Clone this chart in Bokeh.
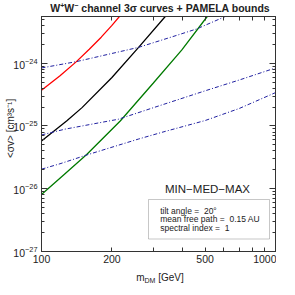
from bokeh.plotting import figure
from bokeh.layouts import column, row
from bokeh.models import (LogAxis, FixedTicker, Label, BoxAnnotation, Div,
                          LogTickFormatter, PrintfTickFormatter, CustomJSTickFormatter)
from bokeh.embed import file_html
from bokeh.resources import INLINE

# ---------------- data ----------------
red_m = [100, 120, 141, 160, 180, 200, 220]
red_s = [3.7e-25, 6.3e-25, 1.06e-24, 1.67e-24, 2.6e-24, 4.0e-24, 6.1e-24]

black_m = [100, 128, 149, 200, 260, 338, 350]
black_s = [5.75e-26, 1.2e-25, 1.96e-25, 5.93e-25, 1.79e-24, 5.55e-24, 6.4e-24]

green_m = [100, 125, 156, 217, 300, 398, 508, 520]
green_s = [8.07e-27, 1.69e-26, 3.52e-26, 1.2e-25, 4.8e-25, 1.63e-24, 5.4e-24, 6.05e-24]

blue1_m = [100, 141, 200, 260, 360, 461, 610, 640]
blue1_s = [8.4e-25, 1.06e-24, 1.43e-24, 1.79e-24, 2.62e-24, 3.52e-24, 5.55e-24, 6.0e-24]

blue2_m = [100, 126, 160, 213, 300, 500, 700, 1000]
blue2_s = [7.2e-26, 8.9e-26, 1.05e-25, 1.28e-25, 1.95e-25, 3.63e-25, 5.4e-25, 8.4e-25]

blue3_m = [100, 120, 156, 260, 338, 500, 700, 1000]
blue3_s = [2.05e-26, 2.5e-26, 3.45e-26, 6.2e-26, 8.2e-26, 1.22e-25, 1.9e-25, 3.4e-25]

x_major = [100, 200, 500, 1000]
x_minor = [300, 400, 600, 700, 800, 900]
y_major = [1e-27, 1e-26, 1e-25, 1e-24]
y_minor = [k * d for d in [1e-27, 1e-26, 1e-25, 1e-24] for k in range(2, 10)]

title_html = ('<span style="position:relative;top:1.3px">'
              'W<sup style="font-size:7px;vertical-align:4px;line-height:0">+</sup>'
              'W<sup style="font-size:7px;vertical-align:4px;line-height:0">\u2212</sup>'
              ' channel 3\u03c3 curves + PAMELA bounds</span>')
ylabel_text = "&lt;\u03c3v&gt; [cm\u00b3s\u207b\u00b9]"
xlabel_html = ('m<sub style="font-size:7px;vertical-align:-2px;line-height:0">DM</sub>'
               ' [GeV]')
info_lines = ["tilt angle =\u00a0\u00a020\u00b0", "mean free path =\u00a0\u00a00.15 AU",
              "spectral index =\u00a0\u00a01"]
model_text = "MIN\u2212MED\u2212MAX"

FONT = "Liberation Sans"
AXC = "#333333"
TXC = "#222222"

FW, FH = 234, 235
YLW = 10

p = figure(frame_width=FW, frame_height=FH, x_axis_type="log", y_axis_type="log",
           x_range=(100, 1000), y_range=(1e-27, 5.55e-24),
           output_backend="svg", toolbar_location=None, title=None,
           min_border_left=0, min_border_right=1, min_border_top=1, min_border_bottom=0)
p.grid.visible = False
p.outline_line_color = AXC
p.background_fill_color = "white"
p.border_fill_color = None

xt = FixedTicker(ticks=x_major, minor_ticks=x_minor)
yt = FixedTicker(ticks=y_major, minor_ticks=y_minor)


def style_axis(ax, is_x, labels=True):
    ax.axis_line_color = AXC
    ax.major_tick_line_color = AXC
    ax.minor_tick_line_color = AXC
    ax.major_tick_out = 0
    ax.minor_tick_out = 0
    if is_x:
        ax.major_tick_in = 4
        ax.minor_tick_in = 4
    else:
        ax.major_tick_in = 6
        ax.minor_tick_in = 3
    ax.major_label_text_font = FONT
    ax.major_label_text_color = TXC
    if labels:
        ax.major_label_text_font_size = "10.5px"
        ax.major_label_standoff = 4
    else:
        ax.major_label_text_font_size = "1px"
        ax.major_label_standoff = 0


p.xaxis.ticker = xt
p.xaxis.formatter = PrintfTickFormatter(format="%d")
p.yaxis.ticker = yt
p.yaxis.formatter = LogTickFormatter()
style_axis(p.xaxis[0], True)
style_axis(p.yaxis[0], False)
p.xaxis.major_label_standoff = 3

top_ax = LogAxis(ticker=xt, formatter=CustomJSTickFormatter(code="return ''"))
right_ax = LogAxis(ticker=yt, formatter=CustomJSTickFormatter(code="return ''"))
style_axis(top_ax, True, labels=False)
style_axis(right_ax, False, labels=False)
p.add_layout(top_ax, "above")
p.add_layout(right_ax, "right")

# curves
p.line(red_m, red_s, line_color="#ff0000", line_width=1.3)
p.line(black_m, black_s, line_color="#000000", line_width=1.3)
p.line(green_m, green_s, line_color="#007a00", line_width=1.3)
for bm, bs in [(blue1_m, blue1_s), (blue2_m, blue2_s), (blue3_m, blue3_s)]:
    p.line(bm, bs, line_color="#2020a0", line_width=1.0, line_dash="4 2 1 2")

# info box (screen units relative to the frame)
p.add_layout(BoxAnnotation(left=107, right=228, top=52, bottom=12.5,
                           left_units="screen", right_units="screen",
                           top_units="screen", bottom_units="screen",
                           fill_color="white", fill_alpha=1.0,
                           line_color="#444444", line_width=1))
for txt, yy in zip(info_lines, [40.5, 32.2, 23.9]):
    p.add_layout(Label(x=118.7, y=yy, x_units="screen", y_units="screen", text=txt,
                       text_font=FONT, text_font_size="8.5px", text_color=TXC,
                       text_align="left", text_baseline="alphabetic"))

p.add_layout(Label(x=166, y=63, x_units="screen", y_units="screen", text=model_text,
                   text_font=FONT, text_font_size="11.5px", text_color=TXC,
                   text_align="center", text_baseline="alphabetic"))

base_style = {"font-family": FONT, "color": TXC, "white-space": "nowrap"}

title_div = Div(text=title_html, width=FW, height=15, margin=(0, 0, 0, 43),
                styles=dict(base_style, **{"font-size": "10.5px", "font-weight": "bold",
                                           "text-align": "center", "line-height": "15px"}))
ylabel_div = Div(text=ylabel_text, width=YLW, height=FH, margin=(1, 0, 0, 0),
                 styles=dict(base_style, **{"font-size": "10px", "line-height": "9px",
                                            "writing-mode": "vertical-rl",
                                            "transform": "translate(6px, -5px) rotate(180deg)",
                                            "text-align": "center", "z-index": "5",
                                            "position": "relative"}))
xlabel_div = Div(text=xlabel_html, width=FW, height=26, margin=(0, 0, 0, 43),
                 styles=dict(base_style, **{"font-size": "10px", "text-align": "center",
                                            "line-height": "26px"}))

layout = column(title_div, row(ylabel_div, p, spacing=0), xlabel_div, spacing=0)

open("out.html", "w").write(file_html(layout, INLINE))
